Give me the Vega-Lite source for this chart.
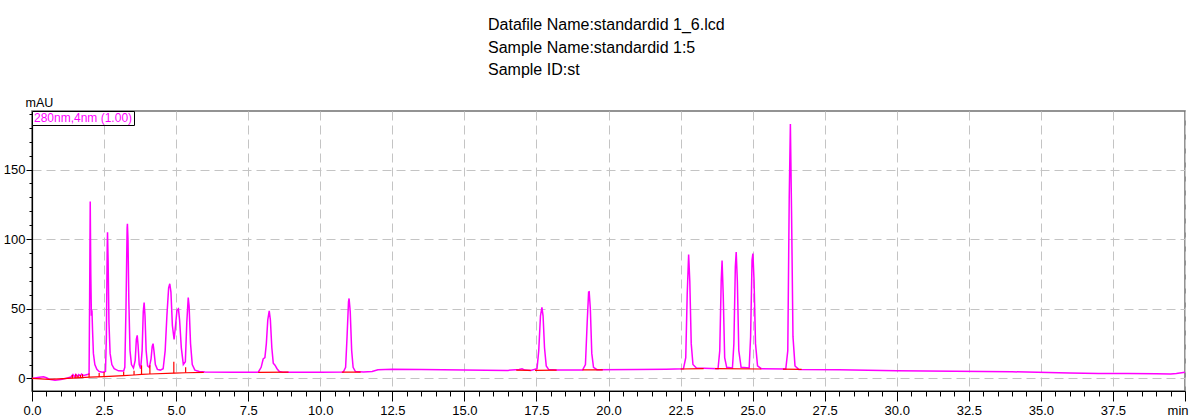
{
  "$schema": "https://vega.github.io/schema/vega-lite/v6.json",
  "width": 1153,
  "height": 280,
  "autosize": {"type": "none"},
  "padding": {"left": 32, "top": 111, "right": 4, "bottom": 28},
  "background": "white",
  "title": {
    "text": ["Datafile Name:standardid 1_6.lcd", "Sample Name:standardid 1:5", "Sample ID:st"],
    "anchor": "start",
    "frame": "group",
    "align": "left",
    "dx": 456,
    "offset": 18,
    "font": "Liberation Sans, Arial, sans-serif",
    "fontSize": 16,
    "fontWeight": "normal",
    "lineHeight": 22.5,
    "color": "black"
  },
  "config": {
    "view": {"stroke": "#707070", "strokeWidth": 1.5},
    "font": "Liberation Sans, Arial, sans-serif",
    "axis": {
      "domainColor": "black",
      "domainWidth": 1.2,
      "tickColor": "black",
      "labelColor": "black",
      "labelFontSize": 13,
      "labelFont": "Liberation Sans, Arial, sans-serif",
      "gridColor": "#c4c4c4",
      "gridDash": [9, 5],
      "gridWidth": 1,
      "labelOverlap": false,
      "labelFlush": false
    }
  },
  "datasets": {
    "trace": [
      {"t": 0.0, "v": 0.0}, {"t": 0.1, "v": 0.3}, {"t": 0.25, "v": 0.8}, {"t": 0.4, "v": 1.2}, {"t": 0.5, "v": 0.5},
      {"t": 0.6, "v": -0.5}, {"t": 0.8, "v": -1.2}, {"t": 1.0, "v": -0.8}, {"t": 1.2, "v": 0.2}, {"t": 1.35, "v": 1.0},
      {"t": 1.42, "v": 2.8}, {"t": 1.47, "v": 1.2}, {"t": 1.52, "v": 3.0}, {"t": 1.57, "v": 1.5}, {"t": 1.62, "v": 2.8},
      {"t": 1.68, "v": 1.8}, {"t": 1.72, "v": 3.2}, {"t": 1.78, "v": 2.2}, {"t": 1.85, "v": 2.5}, {"t": 1.95, "v": 3.0},
      {"t": 1.98, "v": 3.5}, {"t": 2.0, "v": 60}, {"t": 2.02, "v": 127}, {"t": 2.04, "v": 75}, {"t": 2.06, "v": 45},
      {"t": 2.08, "v": 49}, {"t": 2.1, "v": 35}, {"t": 2.13, "v": 18}, {"t": 2.18, "v": 10}, {"t": 2.25, "v": 6.5},
      {"t": 2.33, "v": 5.0}, {"t": 2.45, "v": 4.5}, {"t": 2.55, "v": 5.0}, {"t": 2.58, "v": 30}, {"t": 2.61, "v": 95},
      {"t": 2.62, "v": 105}, {"t": 2.64, "v": 85}, {"t": 2.67, "v": 40}, {"t": 2.71, "v": 18}, {"t": 2.77, "v": 10},
      {"t": 2.85, "v": 7}, {"t": 3.0, "v": 5.5}, {"t": 3.18, "v": 5.3}, {"t": 3.22, "v": 8}, {"t": 3.26, "v": 50},
      {"t": 3.3, "v": 108}, {"t": 3.31, "v": 111}, {"t": 3.33, "v": 100}, {"t": 3.36, "v": 55}, {"t": 3.4, "v": 20},
      {"t": 3.45, "v": 10}, {"t": 3.52, "v": 7.5}, {"t": 3.58, "v": 13}, {"t": 3.62, "v": 28}, {"t": 3.65, "v": 31},
      {"t": 3.68, "v": 24}, {"t": 3.72, "v": 10}, {"t": 3.77, "v": 7}, {"t": 3.82, "v": 20}, {"t": 3.86, "v": 48},
      {"t": 3.89, "v": 54.5}, {"t": 3.92, "v": 45}, {"t": 3.96, "v": 20}, {"t": 4.01, "v": 9}, {"t": 4.07, "v": 8},
      {"t": 4.13, "v": 14}, {"t": 4.17, "v": 23}, {"t": 4.2, "v": 25}, {"t": 4.23, "v": 20}, {"t": 4.28, "v": 10},
      {"t": 4.35, "v": 6.5}, {"t": 4.45, "v": 6}, {"t": 4.55, "v": 7}, {"t": 4.62, "v": 20}, {"t": 4.68, "v": 45},
      {"t": 4.74, "v": 65}, {"t": 4.78, "v": 68}, {"t": 4.82, "v": 62}, {"t": 4.87, "v": 38}, {"t": 4.93, "v": 28},
      {"t": 4.98, "v": 38}, {"t": 5.03, "v": 49}, {"t": 5.08, "v": 50}, {"t": 5.12, "v": 42}, {"t": 5.18, "v": 22},
      {"t": 5.25, "v": 10}, {"t": 5.32, "v": 12}, {"t": 5.37, "v": 40}, {"t": 5.42, "v": 58}, {"t": 5.45, "v": 52},
      {"t": 5.5, "v": 25}, {"t": 5.56, "v": 10}, {"t": 5.65, "v": 6}, {"t": 5.8, "v": 5}, {"t": 6.0, "v": 4.6},
      {"t": 7.0, "v": 4.5}, {"t": 7.85, "v": 4.5}, {"t": 7.95, "v": 8}, {"t": 8.02, "v": 14}, {"t": 8.08, "v": 15},
      {"t": 8.13, "v": 25}, {"t": 8.18, "v": 42}, {"t": 8.23, "v": 48.5}, {"t": 8.27, "v": 42}, {"t": 8.32, "v": 22},
      {"t": 8.37, "v": 11}, {"t": 8.43, "v": 9.5}, {"t": 8.5, "v": 7}, {"t": 8.58, "v": 5}, {"t": 8.7, "v": 4.5},
      {"t": 10.0, "v": 4.4}, {"t": 10.8, "v": 4.6}, {"t": 10.88, "v": 8}, {"t": 10.93, "v": 30}, {"t": 10.98, "v": 55},
      {"t": 11.0, "v": 57.4}, {"t": 11.04, "v": 48}, {"t": 11.09, "v": 20}, {"t": 11.14, "v": 8}, {"t": 11.22, "v": 5},
      {"t": 11.5, "v": 4.6}, {"t": 11.8, "v": 5}, {"t": 12.0, "v": 6.3}, {"t": 12.5, "v": 6.6}, {"t": 13.5, "v": 6.4},
      {"t": 15.0, "v": 6.0}, {"t": 16.5, "v": 5.8}, {"t": 16.9, "v": 6.5}, {"t": 17.0, "v": 7}, {"t": 17.1, "v": 6},
      {"t": 17.3, "v": 5.7}, {"t": 17.52, "v": 7}, {"t": 17.58, "v": 20}, {"t": 17.64, "v": 45}, {"t": 17.69, "v": 51},
      {"t": 17.73, "v": 45}, {"t": 17.78, "v": 22}, {"t": 17.84, "v": 9}, {"t": 17.92, "v": 6.5}, {"t": 18.2, "v": 6},
      {"t": 19.1, "v": 6}, {"t": 19.2, "v": 10}, {"t": 19.26, "v": 40}, {"t": 19.31, "v": 62}, {"t": 19.33, "v": 62.2},
      {"t": 19.37, "v": 50}, {"t": 19.42, "v": 18}, {"t": 19.48, "v": 8}, {"t": 19.6, "v": 6.3}, {"t": 21.0, "v": 6.5},
      {"t": 22.0, "v": 6.7}, {"t": 22.6, "v": 7}, {"t": 22.68, "v": 15}, {"t": 22.73, "v": 60}, {"t": 22.78, "v": 89},
      {"t": 22.82, "v": 70}, {"t": 22.87, "v": 25}, {"t": 22.93, "v": 10}, {"t": 23.05, "v": 7.5}, {"t": 23.8, "v": 7},
      {"t": 23.86, "v": 20}, {"t": 23.91, "v": 70}, {"t": 23.94, "v": 84.7}, {"t": 23.98, "v": 60}, {"t": 24.03, "v": 15},
      {"t": 24.1, "v": 8}, {"t": 24.3, "v": 7.5}, {"t": 24.35, "v": 25}, {"t": 24.4, "v": 80}, {"t": 24.43, "v": 90.7},
      {"t": 24.47, "v": 70}, {"t": 24.52, "v": 20}, {"t": 24.6, "v": 8}, {"t": 24.88, "v": 7.5}, {"t": 24.93, "v": 30},
      {"t": 24.98, "v": 85}, {"t": 25.01, "v": 89.7}, {"t": 25.05, "v": 70}, {"t": 25.1, "v": 25}, {"t": 25.17, "v": 9},
      {"t": 25.3, "v": 7}, {"t": 26.15, "v": 6.8}, {"t": 26.22, "v": 20}, {"t": 26.27, "v": 130}, {"t": 26.31, "v": 182.6},
      {"t": 26.35, "v": 120}, {"t": 26.4, "v": 30}, {"t": 26.47, "v": 9}, {"t": 26.6, "v": 6.5}, {"t": 28.0, "v": 6.2},
      {"t": 30.0, "v": 5.5}, {"t": 32.0, "v": 5.2}, {"t": 34.0, "v": 4.8}, {"t": 36.0, "v": 4.0}, {"t": 37.0, "v": 3.6},
      {"t": 38.0, "v": 3.5}, {"t": 39.0, "v": 3.3}, {"t": 39.5, "v": 3.2}, {"t": 39.7, "v": 3.6}, {"t": 40.0, "v": 4.5}
    ],
    "base": [
      {"seg": "a", "t": 0.0, "v": 0.0}, {"seg": "a", "t": 0.6, "v": -0.6}, {"seg": "a", "t": 1.4, "v": 0.2},
      {"seg": "a", "t": 2.0, "v": 0.9}, {"seg": "a", "t": 2.5, "v": 1.3}, {"seg": "a", "t": 3.18, "v": 2.0},
      {"seg": "a", "t": 3.54, "v": 2.5}, {"seg": "a", "t": 3.8, "v": 2.9}, {"seg": "a", "t": 4.09, "v": 3.2},
      {"seg": "a", "t": 4.92, "v": 3.8}, {"seg": "a", "t": 5.33, "v": 4.1}, {"seg": "a", "t": 5.96, "v": 4.4},
      {"seg": "b", "t": 7.85, "v": 4.4}, {"seg": "b", "t": 8.9, "v": 4.5},
      {"seg": "c", "t": 10.75, "v": 4.5}, {"seg": "c", "t": 11.4, "v": 4.6},
      {"seg": "d", "t": 16.8, "v": 6.0}, {"seg": "d", "t": 17.3, "v": 5.8},
      {"seg": "e", "t": 17.45, "v": 5.8}, {"seg": "e", "t": 18.2, "v": 6.0},
      {"seg": "f", "t": 19.1, "v": 6.1}, {"seg": "f", "t": 19.8, "v": 6.2},
      {"seg": "g", "t": 22.5, "v": 6.8}, {"seg": "g", "t": 23.3, "v": 7.0},
      {"seg": "h", "t": 23.7, "v": 7.0}, {"seg": "h", "t": 25.3, "v": 6.8},
      {"seg": "i", "t": 26.05, "v": 6.7}, {"seg": "i", "t": 26.7, "v": 6.5}
    ],
    "drops": [
      {"t": 1.4, "lo": 0.2, "hi": 2.5}, {"t": 1.52, "lo": 0.3, "hi": 3.0}, {"t": 1.6, "lo": 0.4, "hi": 2.2},
      {"t": 1.68, "lo": 0.5, "hi": 2.5}, {"t": 1.75, "lo": 0.6, "hi": 3.0}, {"t": 1.98, "lo": 0.9, "hi": 3.5},
      {"t": 2.33, "lo": 1.1, "hi": 4.0}, {"t": 2.5, "lo": 1.3, "hi": 4.7}, {"t": 3.18, "lo": 2.0, "hi": 4.9},
      {"t": 3.54, "lo": 2.5, "hi": 5.6}, {"t": 3.8, "lo": 2.9, "hi": 9.4}, {"t": 4.09, "lo": 3.2, "hi": 9.4},
      {"t": 4.92, "lo": 3.8, "hi": 12}, {"t": 5.33, "lo": 4.1, "hi": 8}
    ]
  },
  "layer": [
    {
      "data": {"name": "trace"},
      "mark": {"type": "line", "strokeWidth": 1.5, "interpolate": "linear"},
      "encoding": {
        "x": {
          "field": "t", "type": "quantitative",
          "scale": {"domain": [0, 40], "nice": false, "zero": false},
          "axis": {
            "title": null,
            "tickCount": 200,
            "values": [0,0.5,1,1.5,2,2.5,3,3.5,4,4.5,5,5.5,6,6.5,7,7.5,8,8.5,9,9.5,10,10.5,11,11.5,12,12.5,13,13.5,14,14.5,15,15.5,16,16.5,17,17.5,18,18.5,19,19.5,20,20.5,21,21.5,22,22.5,23,23.5,24,24.5,25,25.5,26,26.5,27,27.5,28,28.5,29,29.5,30,30.5,31,31.5,32,32.5,33,33.5,34,34.5,35,35.5,36,36.5,37,37.5,38,38.5,39,39.5,40],
            "labelExpr": "datum.value == 40 ? 'min' : (datum.value / 2.5 == floor(datum.value / 2.5) ? format(datum.value, '.1f') : '')",
            "labelAlign": {"condition": {"test": "datum.value == 40", "value": "right"}, "value": "center"},
            "labelOffset": {"condition": {"test": "datum.value == 40", "value": 3}, "value": 0},
            "labelPadding": 3,
            "tickSize": {"condition": {"test": "datum.value / 2.5 == floor(datum.value / 2.5)", "value": 10}, "value": 5},
            "gridOpacity": {"condition": {"test": "datum.value / 2.5 == floor(datum.value / 2.5)", "value": 1}, "value": 0}
          }
        },
        "y": {
          "field": "v", "type": "quantitative",
          "scale": {"domain": [-9, 192], "nice": false, "zero": false},
          "axis": {
            "title": "mAU",
            "titleAngle": 0,
            "titleAlign": "left",
            "titleBaseline": "alphabetic",
            "titleX": -7,
            "titleY": -5,
            "titleFontSize": 12.5,
            "titleFontWeight": "normal",
            "titleFont": "Liberation Sans, Arial, sans-serif",
            "titleColor": "black",
            "tickCount": 200,
            "values": [0,10,20,30,40,50,60,70,80,90,100,110,120,130,140,150,160,170,180,190],
            "labelExpr": "datum.value / 50 == floor(datum.value / 50) ? format(datum.value, 'd') : ''",
            "labelPadding": 1,
            "tickSize": {"condition": {"test": "datum.value / 50 == floor(datum.value / 50)", "value": 6}, "value": 3},
            "gridOpacity": {"condition": {"test": "datum.value / 50 == floor(datum.value / 50)", "value": 1}, "value": 0}
          }
        },
        "color": {
          "datum": "280nm,4nm (1.00)",
          "type": "nominal",
          "scale": {"domain": ["280nm,4nm (1.00)"], "range": ["#ff00ff"]},
          "legend": {
            "title": null,
            "orient": "top-left",
            "offset": 0,
            "padding": 1,
            "strokeColor": "black",
            "fillColor": "white",
            "symbolType": "circle",
            "symbolSize": 1,
            "symbolStrokeWidth": 0,
            "symbolOpacity": 0,
            "labelOffset": -11,
            "labelFontSize": 12,
            "labelColor": "#ff00ff",
            "labelFont": "Liberation Sans, Arial, sans-serif"
          }
        }
      }
    },
    {
      "data": {"name": "base"},
      "mark": {"type": "line", "color": "#ff0000", "strokeWidth": 1.2},
      "encoding": {
        "x": {"field": "t", "type": "quantitative"},
        "y": {"field": "v", "type": "quantitative"},
        "detail": {"field": "seg", "type": "nominal"}
      }
    },
    {
      "data": {"name": "drops"},
      "mark": {"type": "rule", "color": "#ff0000", "strokeWidth": 1.2},
      "encoding": {
        "x": {"field": "t", "type": "quantitative"},
        "y": {"field": "lo", "type": "quantitative"},
        "y2": {"field": "hi"}
      }
    }
  ]
}
